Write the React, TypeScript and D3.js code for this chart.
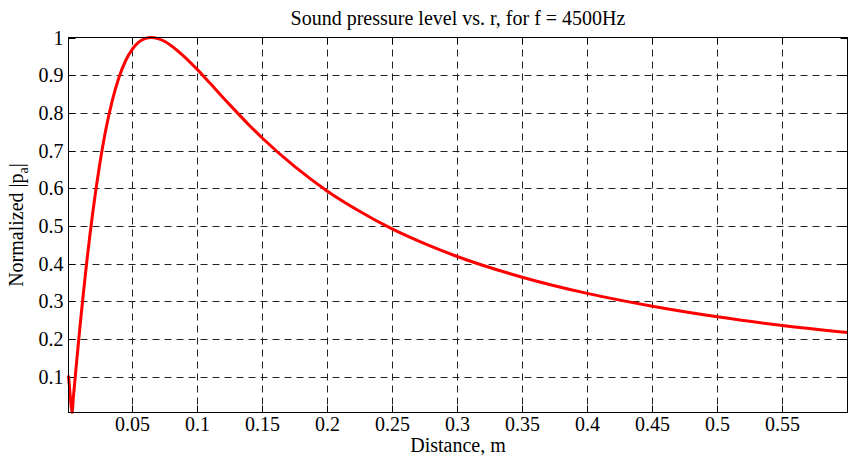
import React from "react";
import * as d3 from "d3";

const distance = [0.0013, 0.002, 0.003, 0.004, 0.005, 0.0075, 0.01, 0.0125, 0.015, 0.02, 0.025, 0.03, 0.035, 0.04, 0.045, 0.05, 0.055, 0.06, 0.065, 0.07, 0.075, 0.08, 0.09, 0.1, 0.11, 0.12, 0.13, 0.14, 0.15, 0.175, 0.2, 0.225, 0.25, 0.275, 0.3, 0.35, 0.4, 0.45, 0.5, 0.55, 0.6];
const pressure = [0.103, 0.075, 0.035, 0.005, 0.044, 0.138, 0.229, 0.314, 0.394, 0.537, 0.657, 0.756, 0.833, 0.893, 0.937, 0.967, 0.987, 0.997, 1.0, 0.997, 0.99, 0.979, 0.95, 0.916, 0.879, 0.841, 0.804, 0.768, 0.734, 0.658, 0.593, 0.539, 0.492, 0.453, 0.419, 0.364, 0.321, 0.287, 0.259, 0.236, 0.217];
const xTicks = [0.05, 0.1, 0.15, 0.2, 0.25, 0.3, 0.35, 0.4, 0.45, 0.5, 0.55];
const yTicks = [0.1, 0.2, 0.3, 0.4, 0.5, 0.6, 0.7, 0.8, 0.9, 1];
const titleText = "Sound pressure level vs. r, for f = 4500Hz";
const xLabelText = "Distance, m";

export default function App() {
  const W = 851, H = 456;
  const left = 68.5, right = 847.5, top = 37.5, bottom = 412.5;
  const x = d3.scaleLinear().domain([0.0013, 0.6]).range([left, right]);
  const y = d3.scaleLinear().domain([0.005, 1]).range([bottom, top]);
  const pts = distance.map((d, i) => [d, pressure[i]] as [number, number]);
  const line = d3.line<[number, number]>().x(d => x(d[0])).y(d => y(d[1])).curve(d3.curveMonotoneX);
  const font = "'Liberation Serif', 'Times New Roman', serif";
  const fs = 20;
  const tl = 7;
  return (
    <svg width={W} height={H} style={{ position: "absolute", left: 0, top: 0, background: "#fff" }} fontFamily={font}>
      <rect x={0} y={0} width={W} height={H} fill="#fff" />
      {xTicks.map(t => {
        const px = Math.round(x(t)) + 0.5;
        return (
          <g key={"x" + t}>
            <line x1={px} x2={px} y1={top} y2={bottom} stroke="#222" strokeWidth={1} strokeDasharray="7,5" />
            <line x1={px} x2={px} y1={bottom} y2={bottom - tl} stroke="#000" />
            <line x1={px} x2={px} y1={top} y2={top + tl} stroke="#000" />
            <text x={px} y={431} fontSize={fs} textAnchor="middle" fill="#000">{t}</text>
          </g>
        );
      })}
      {yTicks.map(t => {
        const py = Math.round(y(t)) + 0.5;
        return (
          <g key={"y" + t}>
            {t < 1 && <line x1={left} x2={right} y1={py} y2={py} stroke="#222" strokeWidth={1} strokeDasharray="7,5" />}
            <line x1={left} x2={left + tl} y1={py} y2={py} stroke="#000" />
            <line x1={right} x2={right - tl} y1={py} y2={py} stroke="#000" />
            <text x={63.5} y={py + 6.5} fontSize={fs} textAnchor="end" fill="#000">{t}</text>
          </g>
        );
      })}
      <path d={line(pts) || ""} fill="none" stroke="#ff0000" strokeWidth={3} strokeLinejoin="round" />
      <rect x={left} y={top} width={right - left} height={bottom - top} fill="none" stroke="#000" strokeWidth={1} />
      <text x={(left + right) / 2} y={25} fontSize={fs} textAnchor="middle" fill="#000">{titleText}</text>
      <text x={(left + right) / 2} y={451.5} fontSize={fs} textAnchor="middle" fill="#000">{xLabelText}</text>
      <text transform={`translate(22.5, ${(top + bottom) / 2}) rotate(-90)`} fontSize={fs} textAnchor="middle" fill="#000">
        Normalized |p<tspan fontSize={14} dy={5}>a</tspan><tspan dy={-5}>|</tspan>
      </text>
    </svg>
  );
}
